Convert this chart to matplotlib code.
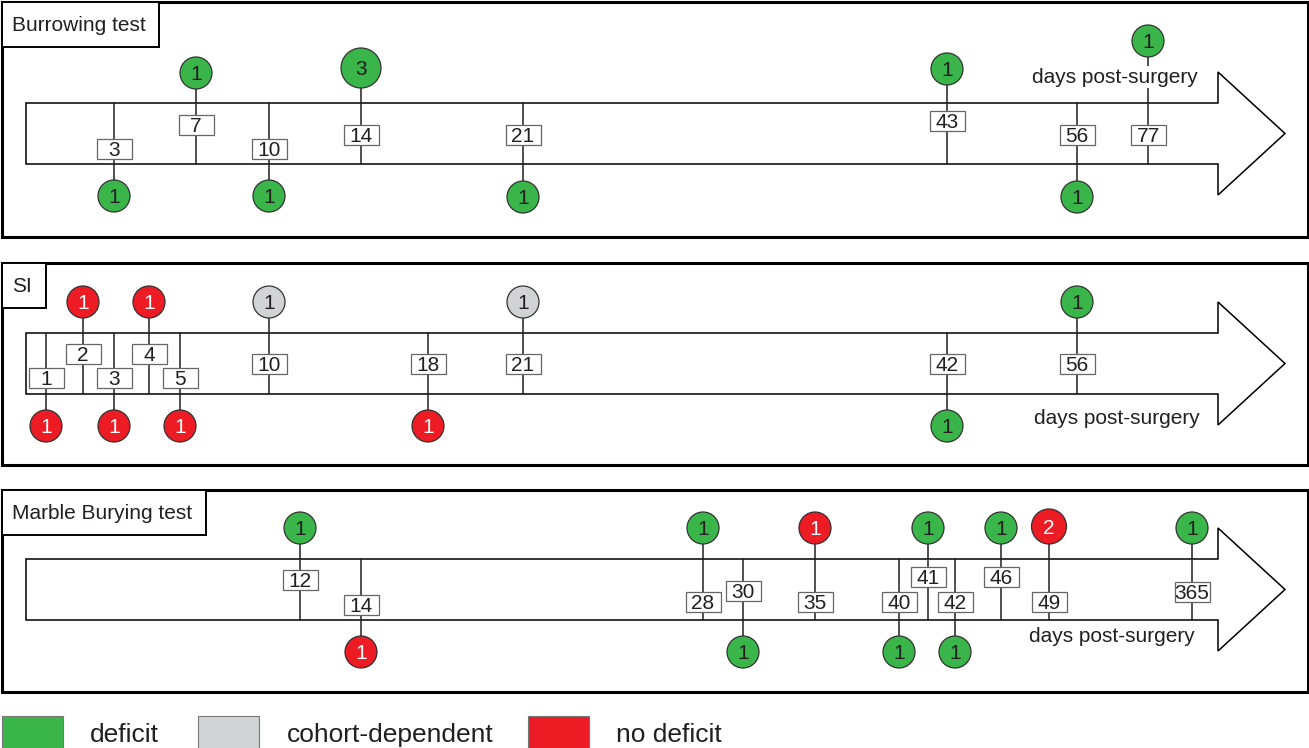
import matplotlib.pyplot as plt
from matplotlib.patches import Circle, Rectangle, Polygon

plt.rcParams['font.family'] = ['Liberation Sans', 'DejaVu Sans']

# --- data: test days, number of studies, outcome, side of the timeline ---
burrow_days = [3, 7, 10, 14, 21, 43, 56, 77]
burrow_counts = [1, 1, 1, 3, 1, 1, 1, 1]
burrow_result = ['deficit'] * 8
burrow_side = ['bottom', 'top', 'bottom', 'top', 'bottom', 'top', 'bottom', 'top']

si_days = [1, 2, 3, 4, 5, 10, 18, 21, 42, 56]
si_counts = [1, 1, 1, 1, 1, 1, 1, 1, 1, 1]
si_result = ['no deficit', 'no deficit', 'no deficit', 'no deficit', 'no deficit',
             'cohort-dependent', 'no deficit', 'cohort-dependent', 'deficit', 'deficit']
si_side = ['bottom', 'top', 'bottom', 'top', 'bottom', 'top', 'bottom', 'top', 'bottom', 'top']

marble_days = [12, 14, 28, 30, 35, 40, 41, 42, 46, 49, 365]
marble_counts = [1, 1, 1, 1, 1, 1, 1, 1, 1, 2, 1]
marble_result = ['deficit', 'no deficit', 'deficit', 'deficit', 'no deficit', 'deficit',
                 'deficit', 'deficit', 'deficit', 'no deficit', 'deficit']
marble_side = ['top', 'bottom', 'top', 'bottom', 'top', 'bottom', 'top', 'bottom', 'top', 'top', 'top']

legend_labels = ['deficit', 'cohort-dependent', 'no deficit']

# --- layout (pixel positions on the timeline) ---
burrow_x = [114, 196, 269, 361, 523, 947, 1077, 1148]
burrow_label_y = [149, 125, 149, 135, 135, 121, 135, 135]
burrow_circle_y = [196, 73, 196, 68, 197, 69, 197, 41]

si_x = [46, 83, 114, 149, 180, 269, 428, 523, 947, 1077]
si_label_y = [378, 354, 378, 354, 378, 364, 364, 364, 364, 364]

marble_x = [300, 361, 703, 743, 815, 899, 928, 955, 1001, 1049, 1192]
marble_label_y = [580, 605, 602, 591, 602, 602, 577, 602, 577, 602, 592]

colors = {'deficit': '#3AB54A', 'cohort-dependent': '#D1D3D4', 'no deficit': '#ED1C24'}
text_colors = {'deficit': '#231F20', 'cohort-dependent': '#231F20', 'no deficit': 'white'}
radius = {1: 16, 2: 17.5, 3: 20}
ink = '#231F20'

W, H = 1309, 748
fig = plt.figure(figsize=(W / 100, H / 100), dpi=100)
ax = fig.add_axes([0, 0, 1, 1])
ax.set_xlim(0, W)
ax.set_ylim(H, 0)
ax.set_aspect('equal')
ax.axis('off')


def draw_panel(title, title_w, top, bottom, shaft_top, days_xy,
               xs, days, counts, result, side, label_y, circle_y=None):
    # frame and title box
    ax.add_patch(Rectangle((1.5, top), W - 3, bottom - top, fill=False,
                           ec='black', lw=2.2, zorder=1))
    ax.add_patch(Rectangle((1.5, top), title_w, 45, fc='white',
                           ec='black', lw=1.4, zorder=2))
    ax.text(12, top + 24, title, fontsize=15, color=ink, va='center', ha='left', zorder=3)

    # arrow
    shaft_bot = shaft_top + 61
    mid = (shaft_top + shaft_bot) / 2
    arrow = [(26, shaft_top), (1218, shaft_top), (1218, mid - 61.5), (1285, mid),
             (1218, mid + 61.5), (1218, shaft_bot), (26, shaft_bot)]
    ax.add_patch(Polygon(arrow, closed=True, fc='white', ec='black', lw=1.1, zorder=1))

    for i in range(len(days)):
        x = xs[i]
        r = radius[counts[i]]
        if circle_y is not None:
            cy = circle_y[i]
        elif side[i] == 'top':
            cy = shaft_top - 15 - r
        else:
            cy = shaft_bot + 16 + r
        if side[i] == 'top':
            ax.plot([x, x], [cy, shaft_bot], color=ink, lw=1.1, zorder=2)
        else:
            ax.plot([x, x], [shaft_top, cy], color=ink, lw=1.1, zorder=2)
        ax.add_patch(Circle((x, cy), r, fc=colors[result[i]], ec='#333333', lw=0.9, zorder=4))
        ax.text(x, cy + 1.5, str(counts[i]), fontsize=15, ha='center', va='center',
                color=text_colors[result[i]], zorder=5)
        ly = label_y[i]
        ax.add_patch(Rectangle((x - 17.5, ly - 10), 35, 20, fc='white',
                               ec='#666666', lw=0.9, zorder=4))
        ax.text(x, ly + 1.5, str(days[i]), fontsize=15, ha='center', va='center',
                color=ink, zorder=5)

    ax.text(days_xy[0], days_xy[1], 'days post-surgery', fontsize=15, color=ink,
            ha='center', va='center', zorder=3,
            bbox=dict(boxstyle='square,pad=0.05', fc='white', ec='none'))


draw_panel('Burrowing test', 157, 1.5, 236.5, 103, (1115, 77),
           burrow_x, burrow_days, burrow_counts, burrow_result, burrow_side,
           burrow_label_y, burrow_circle_y)
draw_panel('SI', 44, 262.5, 464.5, 333, (1117, 418),
           si_x, si_days, si_counts, si_result, si_side, si_label_y)
draw_panel('Marble Burying test', 204, 489.5, 691.5, 559, (1112, 637),
           marble_x, marble_days, marble_counts, marble_result, marble_side,
           marble_label_y)

# legend along the bottom edge
legend_box_x = [2, 198, 528]
legend_text_x = [90, 287, 616]
for lab, bx, tx in zip(legend_labels, legend_box_x, legend_text_x):
    ax.add_patch(Rectangle((bx, 716), 61, 40, fc=colors[lab], ec='#777777', lw=0.8, zorder=2))
    ax.text(tx, 742, lab, fontsize=19, color=ink, ha='left', va='baseline')

fig.savefig('out.png', dpi=100)
